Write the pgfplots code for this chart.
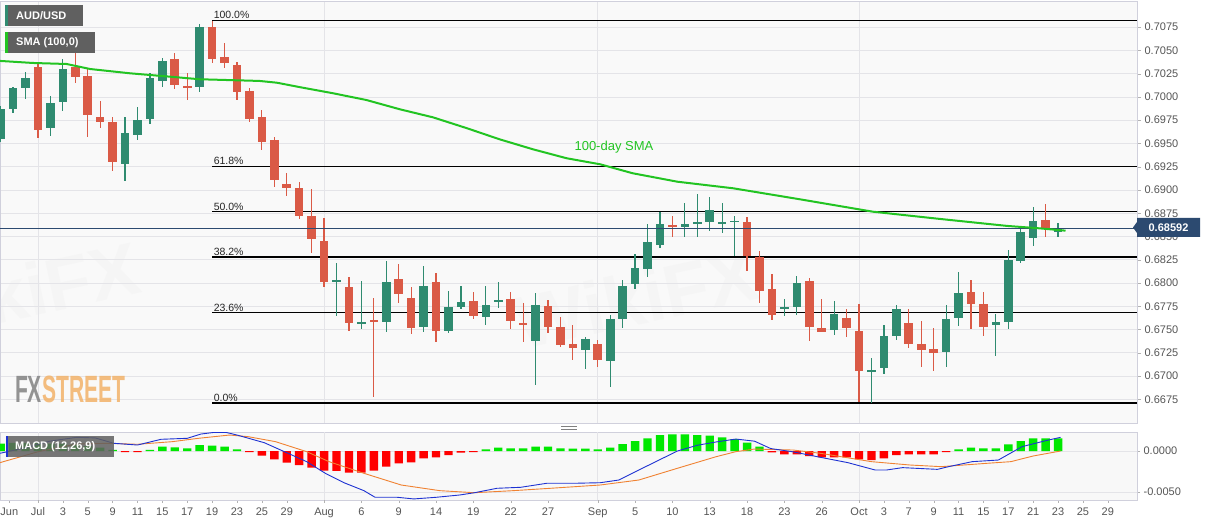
\documentclass[border=0pt]{standalone}
\usepackage{fontspec}
\setmainfont{Liberation Sans}
\usepackage{pgfplots}
\usepackage{pgfplotstable}
\pgfplotsset{compat=1.18}
\definecolor{cgreen}{RGB}{47,139,112}
\definecolor{cred}{RGB}{218,90,70}
\definecolor{smagreen}{RGB}{34,196,34}
\definecolor{gridc}{RGB}{228,228,232}
\definecolor{framec}{RGB}{208,208,220}
\definecolor{bgc}{RGB}{248,248,248}
\definecolor{pricec}{RGB}{44,74,112}
\definecolor{tickc}{RGB}{85,85,85}
\definecolor{hgreen}{RGB}{0,232,0}
\definecolor{hred}{RGB}{255,0,0}
\definecolor{macdblue}{RGB}{30,50,210}
\definecolor{sigorange}{RGB}{240,130,50}
\definecolor{boxgray}{RGB}{96,96,96}
\definecolor{fxgray}{RGB}{130,130,130}
\definecolor{fxorange}{RGB}{242,178,105}

\pgfplotstableread{
i o h l c
-3 0.69551 0.69900 0.69519 0.69867
-2 0.69867 0.70104 0.69831 0.70093
-1 0.70093 0.70265 0.69975 0.70204
1 0.69663 0.70014 0.69584 0.69932
2 0.69949 0.70404 0.69852 0.70297
7 0.69276 0.69781 0.69100 0.69616
8 0.69591 0.69895 0.69537 0.69752
9 0.69763 0.70261 0.69709 0.70201
10 0.70175 0.70416 0.70110 0.70390
13 0.70104 0.70781 0.70057 0.70755
24 0.68020 0.68212 0.67646 0.68025
26 0.67570 0.68025 0.67506 0.67578
28 0.67578 0.68237 0.67471 0.68015
31 0.67524 0.68186 0.67477 0.67971
33 0.67485 0.67914 0.67460 0.67746
34 0.67746 0.67968 0.67718 0.67793
36 0.67639 0.67968 0.67549 0.67764
37 0.67793 0.68008 0.67729 0.67818
40 0.67380 0.67896 0.66904 0.67764
44 0.67280 0.67423 0.67073 0.67395
46 0.67162 0.67657 0.66879 0.67610
47 0.67610 0.68033 0.67514 0.67971
48 0.67986 0.68312 0.67933 0.68158
49 0.68151 0.68631 0.68068 0.68444
50 0.68409 0.68767 0.68373 0.68635
52 0.68606 0.68857 0.68492 0.68635
53 0.68635 0.68954 0.68492 0.68653
54 0.68659 0.68922 0.68563 0.68785
55 0.68648 0.68857 0.68535 0.68652
56 0.68659 0.68721 0.68291 0.68670
60 0.67721 0.67828 0.67649 0.67746
61 0.67746 0.68076 0.67657 0.67997
64 0.67495 0.67807 0.67442 0.67664
67 0.67041 0.67198 0.66714 0.67065
68 0.67084 0.67549 0.67022 0.67431
69 0.67431 0.67764 0.67388 0.67718
73 0.67256 0.67764 0.67094 0.67613
74 0.67621 0.68115 0.67541 0.67896
77 0.67549 0.67664 0.67216 0.67584
78 0.67578 0.68355 0.67503 0.68248
79 0.68240 0.68588 0.68212 0.68545
80 0.68481 0.68814 0.68401 0.68667
82 0.68545 0.68642 0.68492 0.68592
}\greenc

\pgfplotstableread{
i o h l c
0 0.70325 0.70362 0.69556 0.69645
3 0.70325 0.70505 0.70147 0.70218
4 0.70228 0.70308 0.69573 0.69806
5 0.69788 0.69960 0.69663 0.69734
6 0.69728 0.69788 0.69207 0.69298
11 0.70404 0.70469 0.70083 0.70129
12 0.70118 0.70254 0.69967 0.70104
14 0.70755 0.70820 0.70370 0.70405
15 0.70426 0.70583 0.70308 0.70370
16 0.70344 0.70373 0.69967 0.70050
17 0.70067 0.70093 0.69734 0.69763
18 0.69781 0.69860 0.69430 0.69519
19 0.69537 0.69573 0.69029 0.69107
20 0.69064 0.69180 0.68939 0.69018
21 0.69018 0.69089 0.68685 0.68724
22 0.68724 0.69008 0.68320 0.68470
23 0.68455 0.68696 0.67954 0.68008
25 0.67961 0.68062 0.67485 0.67567
27 0.67603 0.67836 0.66772 0.67588
29 0.68040 0.68201 0.67782 0.67882
30 0.67842 0.67961 0.67449 0.67520
32 0.68008 0.68105 0.67363 0.67485
35 0.67807 0.67900 0.67613 0.67646
38 0.67825 0.67900 0.67503 0.67592
39 0.67574 0.67782 0.67363 0.67550
41 0.67753 0.67818 0.67466 0.67531
42 0.67524 0.67639 0.67316 0.67334
43 0.67342 0.67549 0.67173 0.67299
45 0.67342 0.67388 0.67094 0.67173
51 0.68624 0.68721 0.68492 0.68606
57 0.68659 0.68707 0.68130 0.68291
58 0.68283 0.68344 0.67789 0.67918
59 0.67936 0.68094 0.67603 0.67657
62 0.68025 0.68051 0.67380 0.67524
63 0.67514 0.67828 0.67470 0.67477
65 0.67621 0.67718 0.67417 0.67520
66 0.67485 0.67771 0.66725 0.67055
70 0.67574 0.67721 0.67299 0.67342
71 0.67342 0.67592 0.67101 0.67280
72 0.67288 0.67514 0.67055 0.67245
75 0.67907 0.68033 0.67506 0.67771
76 0.67771 0.67907 0.67431 0.67531
81 0.68678 0.68850 0.68498 0.68578
}\redc

\pgfplotstableread{
i v
-3 0.00090
-2 0.00100
-1 0.00100
0 0.00100
1 0.00090
2 0.00090
3 0.00080
4 0.00060
5 0.00040
6 0.00015
9 0.00015
10 0.00053
11 0.00045
12 0.00033
13 0.00073
14 0.00065
15 0.00053
16 0.00020
36 0.00020
37 0.00041
38 0.00033
39 0.00033
40 0.00053
41 0.00053
42 0.00033
43 0.00028
44 0.00028
45 0.00020
46 0.00041
47 0.00085
48 0.00122
49 0.00155
50 0.00195
51 0.00203
52 0.00203
53 0.00195
54 0.00187
55 0.00167
56 0.00146
57 0.00102
58 0.00053
74 0.00020
75 0.00041
76 0.00033
77 0.00033
78 0.00081
79 0.00122
80 0.00155
81 0.00155
82 0.00155
}\hpos

\pgfplotstableread{
i v
7 -0.00015
8 -0.00015
17 -0.00015
18 -0.00057
19 -0.00102
20 -0.00142
21 -0.00171
22 -0.00203
23 -0.00240
24 -0.00244
25 -0.00264
26 -0.00264
27 -0.00240
28 -0.00191
29 -0.00150
30 -0.00138
31 -0.00089
32 -0.00077
33 -0.00049
34 -0.00020
35 -0.00015
59 -0.00016
60 -0.00041
61 -0.00041
62 -0.00061
63 -0.00077
64 -0.00077
65 -0.00077
66 -0.00102
67 -0.00110
68 -0.00089
69 -0.00049
70 -0.00041
71 -0.00041
72 -0.00041
73 -0.00015
}\hneg

\begin{document}
\begin{tikzpicture}[x=1pt,y=1pt]
\fill[white] (0,0) rectangle (1207,-526);
\useasboundingbox (0,0) rectangle (1207,-526);

% watermarks
\node[rotate=12, opacity=0.09, text=black, font=\bfseries\fontsize{74}{74}\selectfont] at (636,-298) {WikiFX};
\node[rotate=12, opacity=0.09, text=black, font=\bfseries\fontsize{74}{74}\selectfont] at (18,-292) {WikiFX};

\begin{axis}[
  at={(0pt,-1pt)}, anchor=north west,
  scale only axis, width=1137pt, height=422pt,
  xmin=-3.05, xmax=88.35, ymin=0.66496, ymax=0.71031,
  axis background/.style={fill=bgc, fill opacity=0.85},
  axis line style={draw=framec},
  ytick={0.6675,0.67,0.6725,0.675,0.6775,0.68,0.6825,0.685,0.6875,0.69,0.6925,0.695,0.6975,0.70,0.7025,0.705,0.7075},
  ytick pos=right, yticklabel pos=right,
  scaled y ticks=false,
  tick align=outside, major tick length=4pt,
  ytick style={draw=gray!60},
  yticklabel style={font=\fontsize{11}{13}\selectfont, text=tickc,
    /pgf/number format/fixed, /pgf/number format/fixed zerofill,
    /pgf/number format/precision=4, /pgf/number format/assume math mode=true},
  ymajorgrids, xmajorgrids, grid style={draw=gridc, line width=0.8pt},
  xtick={0,23,45,66}, xticklabels={}, xtick style={draw=none},
]
% Fibonacci levels
\addplot[black, line width=1.2pt] coordinates {(14,0.7082) (88.35,0.7082)};
\addplot[black, line width=1.2pt] coordinates {(14,0.6925) (88.35,0.6925)};
\addplot[black, line width=1.2pt] coordinates {(14,0.68765) (88.35,0.68765)};
\addplot[black, line width=1.2pt] coordinates {(14,0.6828) (88.35,0.6828)};
\addplot[black, line width=1.2pt] coordinates {(14,0.6768) (88.35,0.6768)};
\addplot[black, line width=1.2pt] coordinates {(14,0.6671) (88.35,0.6671)};
\node[anchor=south west, inner sep=1.5pt, text=black!85, font=\fontsize{10.5}{12}\selectfont] at (axis cs:14,0.7082) {100.0\%};
\node[anchor=south west, inner sep=1.5pt, text=black!85, font=\fontsize{10.5}{12}\selectfont] at (axis cs:14,0.6925) {61.8\%};
\node[anchor=south west, inner sep=1.5pt, text=black!85, font=\fontsize{10.5}{12}\selectfont] at (axis cs:14,0.68765) {50.0\%};
\node[anchor=south west, inner sep=1.5pt, text=black!85, font=\fontsize{10.5}{12}\selectfont] at (axis cs:14,0.6828) {38.2\%};
\node[anchor=south west, inner sep=1.5pt, text=black!85, font=\fontsize{10.5}{12}\selectfont] at (axis cs:14,0.6768) {23.6\%};
\node[anchor=south west, inner sep=1.5pt, text=black!85, font=\fontsize{10.5}{12}\selectfont] at (axis cs:14,0.6671) {0.0\%};

% wicks
\addplot[draw=none, mark=none, error bars/.cd, y dir=both, y explicit, error mark=none,
  error bar style={line width=1.2pt, draw=cgreen}]
  table[x=i, y expr={(\thisrow{h}+\thisrow{l})/2}, y error expr={(\thisrow{h}-\thisrow{l})/2}] {\greenc};
\addplot[draw=none, mark=none, error bars/.cd, y dir=both, y explicit, error mark=none,
  error bar style={line width=1.2pt, draw=cred}]
  table[x=i, y expr={(\thisrow{h}+\thisrow{l})/2}, y error expr={(\thisrow{h}-\thisrow{l})/2}] {\redc};
% bodies
\addplot[draw=none, mark=none, error bars/.cd, y dir=both, y explicit, error mark=none,
  error bar style={line width=8.6pt, draw=cgreen}]
  table[x=i, y expr={(\thisrow{o}+\thisrow{c})/2}, y error expr={max(abs(\thisrow{c}-\thisrow{o})/2,0.00008)}] {\greenc};
\addplot[draw=none, mark=none, error bars/.cd, y dir=both, y explicit, error mark=none,
  error bar style={line width=8.6pt, draw=cred}]
  table[x=i, y expr={(\thisrow{o}+\thisrow{c})/2}, y error expr={max(abs(\thisrow{c}-\thisrow{o})/2,0.00008)}] {\redc};

% current price line
\addplot[pricec, line width=0.9pt] coordinates {(-3.05,0.68592) (88.35,0.68592)};

% 100-day SMA
\addplot[smagreen, line width=2pt, line join=round] coordinates {
(-3.05,0.70387) (-0.4,0.70365) (2.3,0.70354) (4.2,0.70300) (7.4,0.70254) (11.2,0.70211)
(13.0,0.70190) (17.8,0.70172) (19.2,0.70153) (21.1,0.70104) (23.7,0.70040) (26.4,0.69967)
(29.1,0.69867) (31.75,0.69781) (34.5,0.69663) (37.1,0.69545) (39.8,0.69437) (42.5,0.69341)
(45.2,0.69276) (47.8,0.69180) (51.4,0.69089) (55.9,0.69018) (61.25,0.68900) (67.1,0.68767)
(72.5,0.68689) (77.9,0.68614) (80.5,0.68588) (82.6,0.68563)};
\node[text=smagreen, font=\fontsize{13}{15}\selectfont] at (axis cs:46.3,0.69462) {100-day SMA};
\end{axis}

% MACD panel
\begin{axis}[
  at={(0pt,-432pt)}, anchor=north west,
  scale only axis, width=1137pt, height=68pt,
  xmin=-3.05, xmax=88.35, ymin=-0.00598, ymax=0.00232,
  axis background/.style={fill=bgc},
  axis line style={draw=framec},
  ytick={-0.005,0}, ytick pos=right, yticklabel pos=right,
  scaled y ticks=false,
  tick align=outside, major tick length=3pt,
  ytick style={draw=gray!60}, xtick style={draw=gray!60},
  yticklabel style={font=\fontsize{11}{13}\selectfont, text=tickc,
    /pgf/number format/fixed, /pgf/number format/fixed zerofill,
    /pgf/number format/precision=4, /pgf/number format/assume math mode=true},
  ymajorgrids, grid style={draw=gridc, line width=0.8pt},
  xtick pos=bottom,
  xtick={-2.3,0,2,4,6,8,10,12,14,16,18,20,23,26,29,32,35,38,41,45,48,51,54,57,60,63,66,68,70,72,74,76,78,80,82,84,86},
  xticklabels={Jun,Jul,3,5,9,11,15,17,19,23,25,29,Aug,6,9,14,19,22,27,Sep,5,10,13,18,23,26,Oct,3,7,9,11,15,17,21,23,25,29},
  xticklabel style={font=\fontsize{11}{13}\selectfont, text=tickc, yshift=-1pt},
  extra x ticks={0,23,45,66}, extra x tick labels={},
  extra x tick style={grid=major, tick style={draw=none}},
]
\addplot[ybar, bar width=8.4pt, bar shift=0pt, fill=hgreen, draw=none] table[x=i, y=v] {\hpos};
\addplot[ybar, bar width=8.4pt, bar shift=0pt, fill=hred, draw=none] table[x=i, y=v] {\hneg};
\addplot[sigorange, line width=0.9pt, line join=round] coordinates {
(-3.05,-0.00142) (0.02,-0.00008) (3.1,0.00085) (5.6,0.00094) (8.0,0.00082) (10.8,0.00114)
(12.9,0.00155) (15.4,0.00195) (16.9,0.00175) (19.1,0.00114) (21.6,-0.00008) (23.4,-0.00130)
(26.2,-0.00272) (29.2,-0.00415) (32.3,-0.00484) (35.1,-0.00509) (38.2,-0.00484) (41.2,-0.00455)
(45.2,-0.00415) (48.3,-0.00354) (51.4,-0.00211) (54.5,-0.00070) (56.1,-0.00008) (57.6,0.00024)
(60.7,0.00012) (62.9,-0.00028) (67.0,-0.00130) (70.1,-0.00171) (72.6,-0.00191) (76.3,-0.00150)
(78.2,-0.00130) (80.0,-0.00061) (82.2,0.0)};
\addplot[macdblue, line width=0.9pt, line join=round] coordinates {
(-3.05,-0.00028) (-1,0.00040) (0.95,0.00120) (3.1,0.00167) (4.6,0.00160) (6.1,0.00094)
(8.0,0.00073) (9.9,0.00143) (12.0,0.00155) (13.1,0.00207) (14.2,0.00228) (15.1,0.00228)
(16.0,0.00195) (18.2,0.00101) (20.0,-0.00021) (21.6,-0.00130) (23.1,-0.00272) (24.6,-0.00387)
(26.2,-0.00484) (27.1,-0.00565) (28.9,-0.00565) (30.2,-0.00585) (32.0,-0.00565) (33.9,-0.00537)
(35.1,-0.00509) (36.9,-0.00455) (38.8,-0.00443) (40.9,-0.00394) (43.1,-0.00394) (45.2,-0.00387)
(46.7,-0.00354) (48.3,-0.00232) (49.8,-0.00120) (51.4,0.0) (53.0,0.00070) (54.5,0.00110)
(56.1,0.00146) (57.6,0.00120) (58.9,0.00030) (60.7,-0.00010) (62.9,-0.00077) (65.1,-0.00142)
(67.3,-0.00232) (68.2,-0.00232) (69.5,-0.00203) (72.3,-0.00224) (73.2,-0.00191) (75.1,-0.00130)
(77.2,-0.00110) (79.1,0.00053) (81.0,0.00126) (82.2,0.00167)};
\end{axis}

% overlays
\fill[boxgray] (5,-5) rectangle (83,-26);
\fill[cgreen] (5,-5) rectangle (7.5,-26);
\node[anchor=west, inner sep=0pt, text=white, font=\bfseries\fontsize{11}{13}\selectfont] at (16,-15.5) {AUD/USD};
\fill[boxgray] (5,-32) rectangle (95,-53);
\fill[smagreen] (5,-32) rectangle (7.5,-53);
\node[anchor=west, inner sep=0pt, text=white, font=\bfseries\fontsize{11}{13}\selectfont] at (16,-42.5) {SMA (100,0)};

\fill[boxgray, opacity=0.85] (6,-436) rectangle (114,-457);
\fill[macdblue] (6,-436) rectangle (8,-457);
\node[anchor=west, inner sep=0pt, text=white, font=\bfseries\fontsize{11}{13}\selectfont] at (15,-446.5) {MACD (12,26,9)};

\fill[pricec] (1133,-227.5) -- (1137,-222) -- (1137,-218) -- (1200,-218) -- (1200,-237) -- (1137,-237) -- (1137,-233) -- cycle;
\node[inner sep=0pt, text=white, font=\bfseries\fontsize{11}{13}\selectfont] at (1168.5,-227.5) {0.68592};

\node[anchor=west, inner sep=0pt, xscale=0.555, opacity=0.85, font=\bfseries\fontsize{38}{38}\selectfont] at (15,-389) {\textcolor{fxgray}{FX}\textcolor{fxorange}{STREET}};

\draw[gray, line width=0.8pt] (561,-426.5) -- (577,-426.5);
\draw[gray, line width=0.8pt] (561,-429) -- (577,-429);
\end{tikzpicture}
\end{document}
